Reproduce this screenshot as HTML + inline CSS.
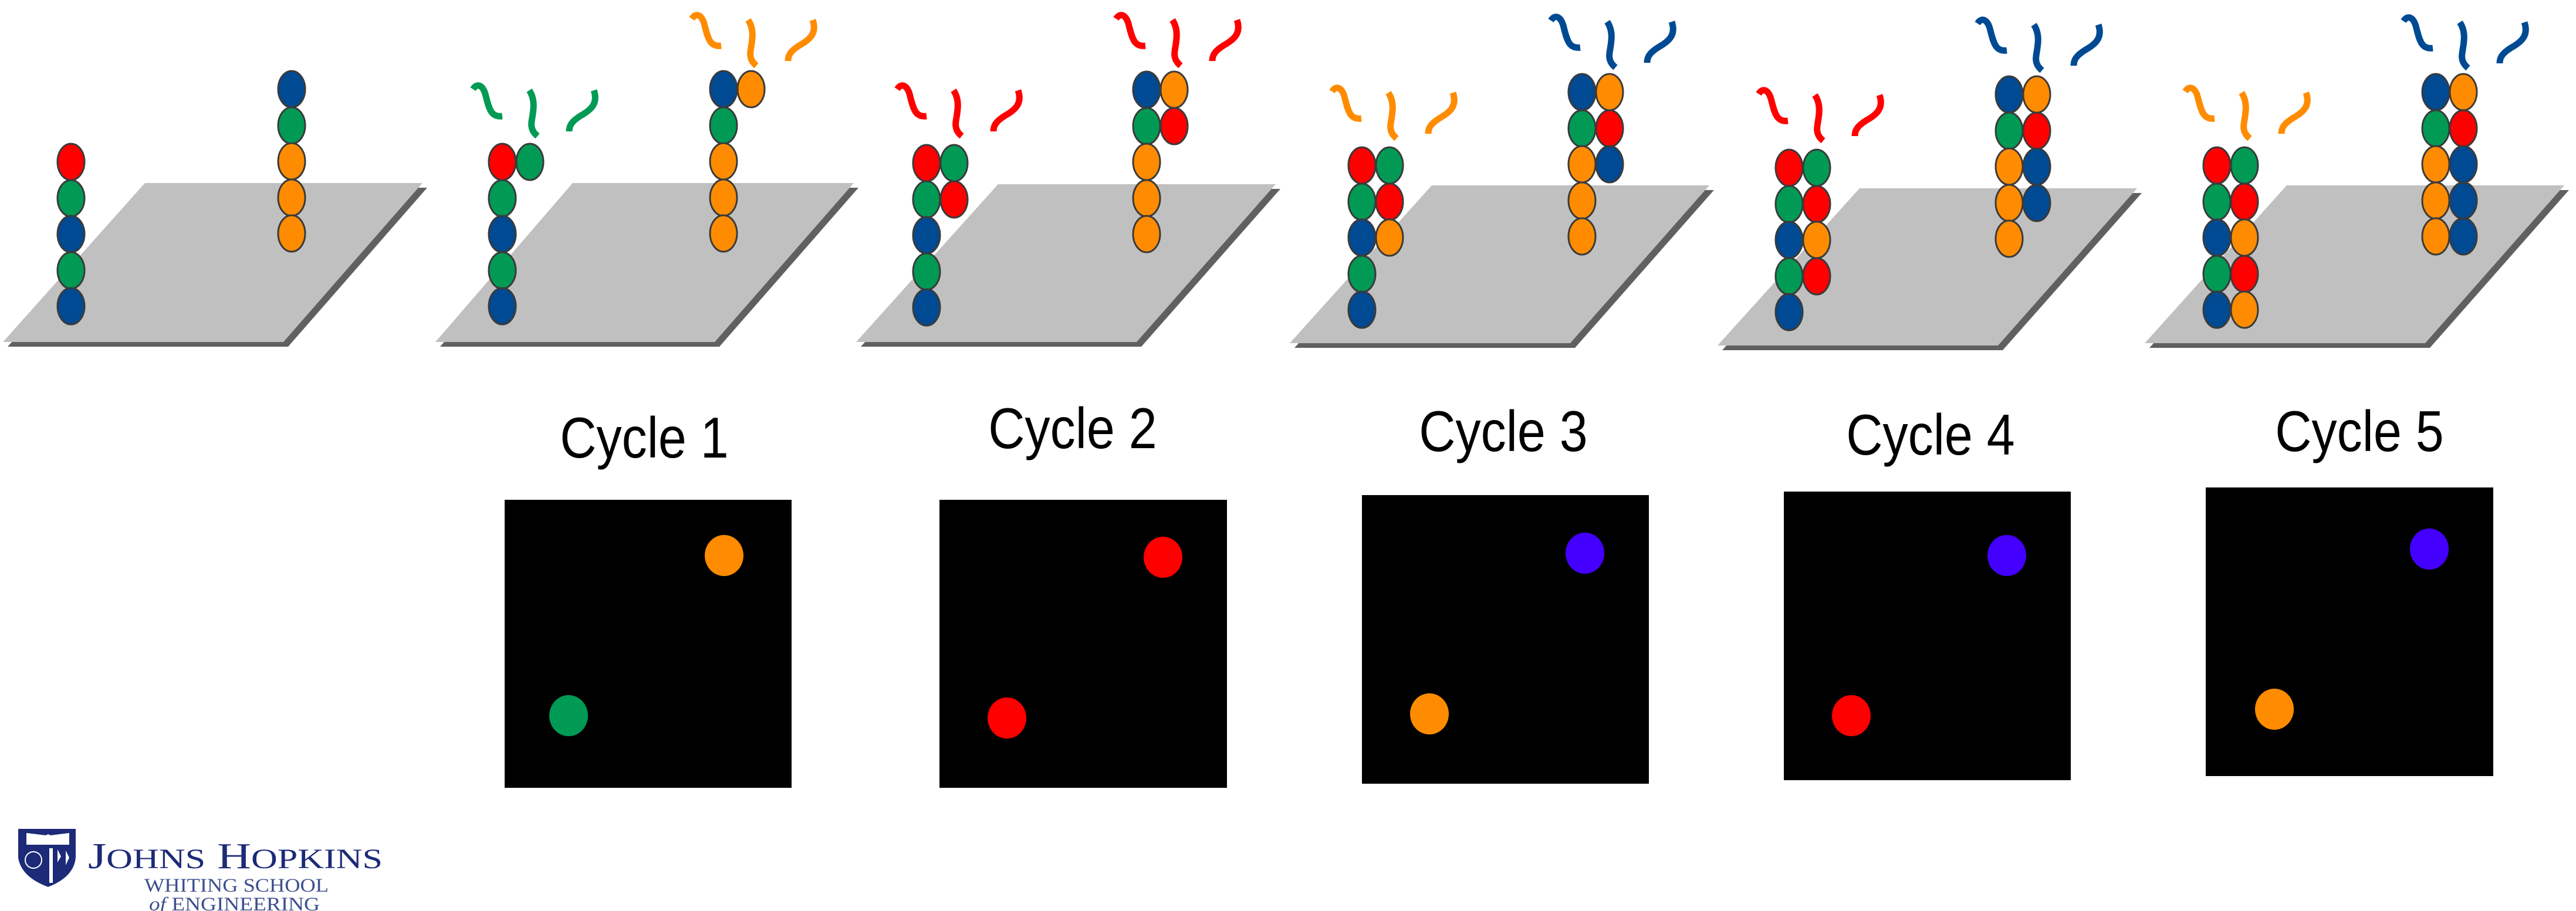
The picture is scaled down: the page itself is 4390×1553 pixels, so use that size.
<!DOCTYPE html>
<html><head><meta charset="utf-8"><style>
html,body{margin:0;padding:0;background:#fff;}
svg{display:block}
.cy{font-family:"Liberation Sans",sans-serif;font-size:98px;fill:#000;}
.R{fill:#ff0000}.G{fill:#009a55}.B{fill:#004a93}.O{fill:#ff8c00}
</style></head><body>
<svg width="4390" height="1553" viewBox="0 0 4390 1553" xmlns="http://www.w3.org/2000/svg" xmlns:xlink="http://www.w3.org/1999/xlink">
<defs>
<g id="sq" fill="none" stroke-width="11" stroke-linecap="butt">
  <path d="M2,10 C10,-2 20,4 24,22 C30,46 34,58 52,56"/>
  <path d="M98,12 C110,30 104,50 102,65 C100,78 106,85 112,90"/>
  <path d="M208,12 C216,35 202,46 186,55 C170,65 166,72 166,82"/>
</g>
</defs>
<!-- plates -->
<g>
<polygon points="255,320 728,320 491,591 13,591" fill="#606060"/>
<polygon points="247,312 720,312 483,583 5,583" fill="#c0c0c0"/>
<polygon points="984,320 1463,320 1226,591 750,591" fill="#606060"/>
<polygon points="976,312 1455,312 1218,583 742,583" fill="#c0c0c0"/>
<polygon points="1709,322 2182,322 1945,591 1467,591" fill="#606060"/>
<polygon points="1701,314 2174,314 1937,583 1459,583" fill="#c0c0c0"/>
<polygon points="2448,324 2921,324 2684,593 2206,593" fill="#606060"/>
<polygon points="2440,316 2913,316 2676,585 2198,585" fill="#c0c0c0"/>
<polygon points="3177,329 3650,329 3413,597 2935,597" fill="#606060"/>
<polygon points="3169,321 3642,321 3405,589 2927,589" fill="#c0c0c0"/>
<polygon points="3905,324 4378,324 4141,593 3663,593" fill="#606060"/>
<polygon points="3897,316 4370,316 4133,585 3655,585" fill="#c0c0c0"/>
</g>
<!-- beads -->
<g stroke="#3a3a3a" stroke-width="3">
<!-- P1 -->
<g transform="translate(121 245)">
<ellipse class="R" cx="0" cy="31" rx="23" ry="31"/><ellipse class="G" cx="0" cy="93" rx="23" ry="31"/><ellipse class="B" cx="0" cy="154" rx="23" ry="31"/><ellipse class="G" cx="0" cy="216" rx="23" ry="31"/><ellipse class="B" cx="0" cy="277" rx="23" ry="31"/>
</g>
<g transform="translate(497 121)">
<ellipse class="B" cx="0" cy="31" rx="23" ry="31"/><ellipse class="G" cx="0" cy="93" rx="23" ry="31"/><ellipse class="O" cx="0" cy="154" rx="23" ry="31"/><ellipse class="O" cx="0" cy="216" rx="23" ry="31"/><ellipse class="O" cx="0" cy="277" rx="23" ry="31"/>
</g>
<!-- P2 -->
<g transform="translate(856 245)">
<ellipse class="R" cx="0" cy="31" rx="23" ry="31"/><ellipse class="G" cx="47" cy="31" rx="23" ry="31"/><ellipse class="G" cx="0" cy="93" rx="23" ry="31"/><ellipse class="B" cx="0" cy="154" rx="23" ry="31"/><ellipse class="G" cx="0" cy="216" rx="23" ry="31"/><ellipse class="B" cx="0" cy="277" rx="23" ry="31"/>
</g>
<g transform="translate(1233 121)">
<ellipse class="B" cx="0" cy="31" rx="23" ry="31"/><ellipse class="O" cx="47" cy="31" rx="23" ry="31"/><ellipse class="G" cx="0" cy="93" rx="23" ry="31"/><ellipse class="O" cx="0" cy="154" rx="23" ry="31"/><ellipse class="O" cx="0" cy="216" rx="23" ry="31"/><ellipse class="O" cx="0" cy="277" rx="23" ry="31"/>
</g>
<!-- P3 -->
<g transform="translate(1579 247)">
<ellipse class="R" cx="0" cy="31" rx="23" ry="31"/><ellipse class="G" cx="47" cy="31" rx="23" ry="31"/><ellipse class="G" cx="0" cy="93" rx="23" ry="31"/><ellipse class="R" cx="47" cy="93" rx="23" ry="31"/><ellipse class="B" cx="0" cy="154" rx="23" ry="31"/><ellipse class="G" cx="0" cy="216" rx="23" ry="31"/><ellipse class="B" cx="0" cy="277" rx="23" ry="31"/>
</g>
<g transform="translate(1954 122)">
<ellipse class="B" cx="0" cy="31" rx="23" ry="31"/><ellipse class="O" cx="47" cy="31" rx="23" ry="31"/><ellipse class="G" cx="0" cy="93" rx="23" ry="31"/><ellipse class="R" cx="47" cy="93" rx="23" ry="31"/><ellipse class="O" cx="0" cy="154" rx="23" ry="31"/><ellipse class="O" cx="0" cy="216" rx="23" ry="31"/><ellipse class="O" cx="0" cy="277" rx="23" ry="31"/>
</g>
<!-- P4 -->
<g transform="translate(2321 251)">
<ellipse class="R" cx="0" cy="31" rx="23" ry="31"/><ellipse class="G" cx="47" cy="31" rx="23" ry="31"/><ellipse class="G" cx="0" cy="93" rx="23" ry="31"/><ellipse class="R" cx="47" cy="93" rx="23" ry="31"/><ellipse class="B" cx="0" cy="154" rx="23" ry="31"/><ellipse class="O" cx="47" cy="154" rx="23" ry="31"/><ellipse class="G" cx="0" cy="216" rx="23" ry="31"/><ellipse class="B" cx="0" cy="277" rx="23" ry="31"/>
</g>
<g transform="translate(2696 126)">
<ellipse class="B" cx="0" cy="31" rx="23" ry="31"/><ellipse class="O" cx="47" cy="31" rx="23" ry="31"/><ellipse class="G" cx="0" cy="93" rx="23" ry="31"/><ellipse class="R" cx="47" cy="93" rx="23" ry="31"/><ellipse class="O" cx="0" cy="154" rx="23" ry="31"/><ellipse class="B" cx="47" cy="154" rx="23" ry="31"/><ellipse class="O" cx="0" cy="216" rx="23" ry="31"/><ellipse class="O" cx="0" cy="277" rx="23" ry="31"/>
</g>
<!-- P5 -->
<g transform="translate(3049 255)">
<ellipse class="R" cx="0" cy="31" rx="23" ry="31"/><ellipse class="G" cx="47" cy="31" rx="23" ry="31"/><ellipse class="G" cx="0" cy="93" rx="23" ry="31"/><ellipse class="R" cx="47" cy="93" rx="23" ry="31"/><ellipse class="B" cx="0" cy="154" rx="23" ry="31"/><ellipse class="O" cx="47" cy="154" rx="23" ry="31"/><ellipse class="G" cx="0" cy="216" rx="23" ry="31"/><ellipse class="R" cx="47" cy="216" rx="23" ry="31"/><ellipse class="B" cx="0" cy="277" rx="23" ry="31"/>
</g>
<g transform="translate(3424 130)">
<ellipse class="B" cx="0" cy="31" rx="23" ry="31"/><ellipse class="O" cx="47" cy="31" rx="23" ry="31"/><ellipse class="G" cx="0" cy="93" rx="23" ry="31"/><ellipse class="R" cx="47" cy="93" rx="23" ry="31"/><ellipse class="O" cx="0" cy="154" rx="23" ry="31"/><ellipse class="B" cx="47" cy="154" rx="23" ry="31"/><ellipse class="O" cx="0" cy="216" rx="23" ry="31"/><ellipse class="B" cx="47" cy="216" rx="23" ry="31"/><ellipse class="O" cx="0" cy="277" rx="23" ry="31"/>
</g>
<!-- P6 -->
<g transform="translate(3778 251)">
<ellipse class="R" cx="0" cy="31" rx="23" ry="31"/><ellipse class="G" cx="47" cy="31" rx="23" ry="31"/><ellipse class="G" cx="0" cy="93" rx="23" ry="31"/><ellipse class="R" cx="47" cy="93" rx="23" ry="31"/><ellipse class="B" cx="0" cy="154" rx="23" ry="31"/><ellipse class="O" cx="47" cy="154" rx="23" ry="31"/><ellipse class="G" cx="0" cy="216" rx="23" ry="31"/><ellipse class="R" cx="47" cy="216" rx="23" ry="31"/><ellipse class="B" cx="0" cy="277" rx="23" ry="31"/><ellipse class="O" cx="47" cy="277" rx="23" ry="31"/>
</g>
<g transform="translate(4151 126)">
<ellipse class="B" cx="0" cy="31" rx="23" ry="31"/><ellipse class="O" cx="47" cy="31" rx="23" ry="31"/><ellipse class="G" cx="0" cy="93" rx="23" ry="31"/><ellipse class="R" cx="47" cy="93" rx="23" ry="31"/><ellipse class="O" cx="0" cy="154" rx="23" ry="31"/><ellipse class="B" cx="47" cy="154" rx="23" ry="31"/><ellipse class="O" cx="0" cy="216" rx="23" ry="31"/><ellipse class="B" cx="47" cy="216" rx="23" ry="31"/><ellipse class="O" cx="0" cy="277" rx="23" ry="31"/><ellipse class="B" cx="47" cy="277" rx="23" ry="31"/>
</g>
</g>
<!-- squiggles -->
<g>
<use href="#sq" xlink:href="#sq" transform="translate(804 142)" stroke="#009a55"/>
<use href="#sq" xlink:href="#sq" transform="translate(1177 22)" stroke="#ff8c00"/>
<use href="#sq" xlink:href="#sq" transform="translate(1527 142)" stroke="#ff0000"/>
<use href="#sq" xlink:href="#sq" transform="translate(1900 22)" stroke="#ff0000"/>
<use href="#sq" xlink:href="#sq" transform="translate(2268 146)" stroke="#ff8c00"/>
<use href="#sq" xlink:href="#sq" transform="translate(2641 25)" stroke="#004a93"/>
<use href="#sq" xlink:href="#sq" transform="translate(2995 150)" stroke="#ff0000"/>
<use href="#sq" xlink:href="#sq" transform="translate(3368 30)" stroke="#004a93"/>
<use href="#sq" xlink:href="#sq" transform="translate(3722 146)" stroke="#ff8c00"/>
<use href="#sq" xlink:href="#sq" transform="translate(4094 26)" stroke="#004a93"/>
</g>
<!-- cycle labels -->
<g class="cy" text-anchor="middle">
<text x="1098" y="780" transform="translate(1098 0) scale(0.88 1) translate(-1098 0)">Cycle 1</text>
<text x="1828" y="764" transform="translate(1828 0) scale(0.88 1) translate(-1828 0)">Cycle 2</text>
<text x="2562" y="769" transform="translate(2562 0) scale(0.88 1) translate(-2562 0)">Cycle 3</text>
<text x="3290" y="775" transform="translate(3290 0) scale(0.88 1) translate(-3290 0)">Cycle 4</text>
<text x="4021" y="769" transform="translate(4021 0) scale(0.88 1) translate(-4021 0)">Cycle 5</text>
</g>
<!-- squares -->
<rect x="860" y="852" width="489" height="491" fill="#000"/>
<ellipse cx="1234" cy="947" rx="33" ry="35" fill="#ff8c00"/>
<ellipse cx="969" cy="1220" rx="33" ry="35" fill="#009a55"/>
<rect x="1601" y="852" width="490" height="491" fill="#000"/>
<ellipse cx="1982" cy="950" rx="33" ry="35" fill="#ff0000"/>
<ellipse cx="1716" cy="1224" rx="33" ry="35" fill="#ff0000"/>
<rect x="2321" y="844" width="489" height="492" fill="#000"/>
<ellipse cx="2701" cy="943" rx="33" ry="35" fill="#4400ff"/>
<ellipse cx="2436" cy="1217" rx="33" ry="35" fill="#ff8c00"/>
<rect x="3040" y="838" width="489" height="492" fill="#000"/>
<ellipse cx="3420" cy="947" rx="33" ry="35" fill="#4400ff"/>
<ellipse cx="3155" cy="1220" rx="33" ry="35" fill="#ff0000"/>
<rect x="3759" y="831" width="490" height="492" fill="#000"/>
<ellipse cx="4140" cy="936" rx="33" ry="35" fill="#4400ff"/>
<ellipse cx="3876" cy="1209" rx="33" ry="35" fill="#ff8c00"/>
<!-- logo -->
<g>
<path d="M31,1413 L129,1413 L129,1462 Q126,1495 82,1512 Q36,1495 31,1462 Z" fill="#1c2a78"/>
<path d="M45,1420 L78,1424 L82,1422 L86,1424 L118,1420 L118,1440 L45,1440 Z" fill="#fff"/>
<circle cx="57" cy="1466" r="14" fill="none" stroke="#fff" stroke-width="2"/>
<path d="M84,1446 L90,1446 L90,1505 L84,1505 Z M98,1448 L104,1460 L98,1470 Z M112,1450 L118,1462 L112,1475 Z" fill="#fff"/>
<text x="150" y="1480" font-family="Liberation Serif,serif" font-size="62" fill="#1c2a78" textLength="502" lengthAdjust="spacingAndGlyphs">J<tspan font-size="48">OHNS</tspan> H<tspan font-size="48">OPKINS</tspan></text>
<text x="246" y="1520" font-family="Liberation Serif,serif" font-size="33" fill="#3e4f8e" textLength="314" lengthAdjust="spacingAndGlyphs">WHITING SCHOOL</text>
<text x="254" y="1552" font-family="Liberation Serif,serif" font-size="33" fill="#3e4f8e" textLength="291" lengthAdjust="spacingAndGlyphs"><tspan font-style="italic">of</tspan> ENGINEERING</text>
</g>
</svg>
</body></html>
